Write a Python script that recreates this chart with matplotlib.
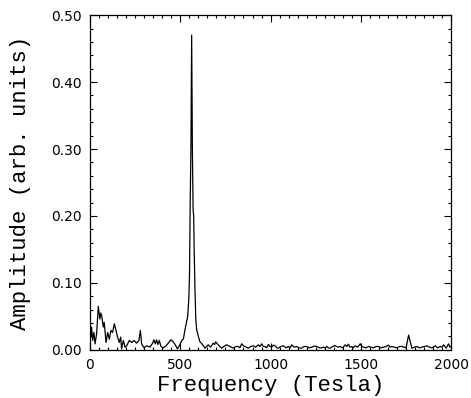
import numpy as np
import matplotlib
matplotlib.use('Agg')
import matplotlib.pyplot as plt
from matplotlib.ticker import MultipleLocator

# Спектр: частота (Тесла) та амплітуда ---------------------------
freq = [0, 5, 9, 15, 22, 28, 37, 46, 55, 60, 65, 74, 79, 89, 98, 107, 116,
        125, 135, 144, 153, 162, 170, 175, 185, 194, 203, 218, 231, 244,
        258, 271, 279, 286, 299, 314, 332, 347, 354, 362, 369, 376, 384,
        393, 406, 421, 434, 447, 458, 471, 484, 495, 508, 517, 526, 535,
        541, 547, 551, 555, 559, 563, 567, 571, 574, 577, 581, 586, 591,
        600, 609, 620, 637, 655, 668, 682, 690, 696, 710, 729, 740, 757,
        775, 794, 808, 821, 830, 840, 850, 858, 877, 890, 905, 918, 932,
        941, 951, 960, 969, 978, 988, 997, 1006, 1015, 1025, 1034, 1043,
        1057, 1071, 1085, 1099, 1108, 1117, 1130, 1145, 1158, 1172, 1186,
        1200, 1214, 1228, 1242, 1256, 1270, 1283, 1293, 1302, 1311, 1320,
        1330, 1343, 1357, 1371, 1385, 1399, 1413, 1422, 1431, 1440, 1450,
        1459, 1468, 1482, 1496, 1505, 1514, 1528, 1542, 1556, 1570, 1584,
        1598, 1612, 1625, 1639, 1653, 1662, 1672, 1685, 1699, 1713, 1727,
        1740, 1750, 1764, 1782, 1796, 1810, 1824, 1838, 1851, 1865, 1879,
        1893, 1905, 1912, 1925, 1939, 1948, 1958, 1972, 1985, 1993, 2000]
ampl = [0.036, 0.019, 0.034, 0.014, 0.026, 0.009, 0.024, 0.065, 0.046,
        0.055, 0.051, 0.034, 0.041, 0.011, 0.026, 0.016, 0.029, 0.026,
        0.039, 0.029, 0.019, 0.011, 0.019, 0.0015, 0.014, 0.004, 0.006,
        0.014, 0.011, 0.014, 0.010, 0.014, 0.029, 0.009, 0.003, 0.006,
        0.004, 0.010, 0.015, 0.009, 0.015, 0.008, 0.014, 0.005, 0.003,
        0.006, 0.010, 0.015, 0.013, 0.008, 0.0015, 0.006, 0.014, 0.016,
        0.030, 0.042, 0.050, 0.074, 0.110, 0.220, 0.300, 0.470, 0.300,
        0.210, 0.200, 0.150, 0.094, 0.045, 0.030, 0.020, 0.012, 0.009,
        0.0025, 0.0075, 0.004, 0.010, 0.008, 0.012, 0.0075, 0.0025,
        0.005, 0.0075, 0.005, 0.0025, 0.005, 0.005, 0.003, 0.009, 0.006,
        0.005, 0.0025, 0.005, 0.006, 0.004, 0.0075, 0.005, 0.009, 0.005,
        0.005, 0.003, 0.008, 0.005, 0.004, 0.007, 0.006, 0.003, 0.0025,
        0.005, 0.006, 0.003, 0.005, 0.003, 0.0075, 0.004, 0.005, 0.003,
        0.0025, 0.005, 0.005, 0.003, 0.004, 0.0055, 0.005, 0.003, 0.003,
        0.004, 0.003, 0.005, 0.003, 0.0025, 0.005, 0.0065, 0.004, 0.005,
        0.003, 0.0075, 0.005, 0.0085, 0.004, 0.005, 0.003, 0.006, 0.004,
        0.009, 0.005, 0.004, 0.003, 0.005, 0.004, 0.003, 0.005, 0.005,
        0.003, 0.004, 0.005, 0.007, 0.004, 0.005, 0.004, 0.003, 0.005,
        0.005, 0.004, 0.003, 0.022, 0.0025, 0.004, 0.005, 0.003, 0.004,
        0.005, 0.006, 0.004, 0.003, 0.005, 0.006, 0.003, 0.005, 0.004,
        0.0075, 0.0025, 0.009, 0.004, 0.005]

xticks = [0, 500, 1000, 1500, 2000]
yticks = [0.00, 0.10, 0.20, 0.30, 0.40, 0.50]

fig = plt.figure(figsize=(4.71, 3.98), dpi=100)
ax = fig.add_axes([0.191, 0.121, 0.767, 0.841])
ax.plot(freq, ampl, color='black', lw=0.9)

ax.set_xlim(0, 2000); ax.set_ylim(0, 0.5)
ax.set_xticks(xticks)
ax.set_yticks(yticks)
ax.set_yticklabels(['%.2f' % v for v in yticks])
ax.xaxis.set_minor_locator(MultipleLocator(50))
ax.yaxis.set_minor_locator(MultipleLocator(0.02))
ax.tick_params(which='both', direction='in', top=True, right=True,
               labelsize=10, width=0.8)
ax.tick_params(which='major', length=5, pad=6)
ax.tick_params(which='minor', length=2.5)
for s in ax.spines.values():
  s.set_linewidth(0.9)

ax.set_xlabel('Frequency (Tesla)', family='Liberation Mono', fontsize=16,
              labelpad=2)
ax.set_ylabel('Amplitude (arb. units)', family='Liberation Mono',
              fontsize=16, labelpad=14)

fig.savefig('out.png', dpi=100)
